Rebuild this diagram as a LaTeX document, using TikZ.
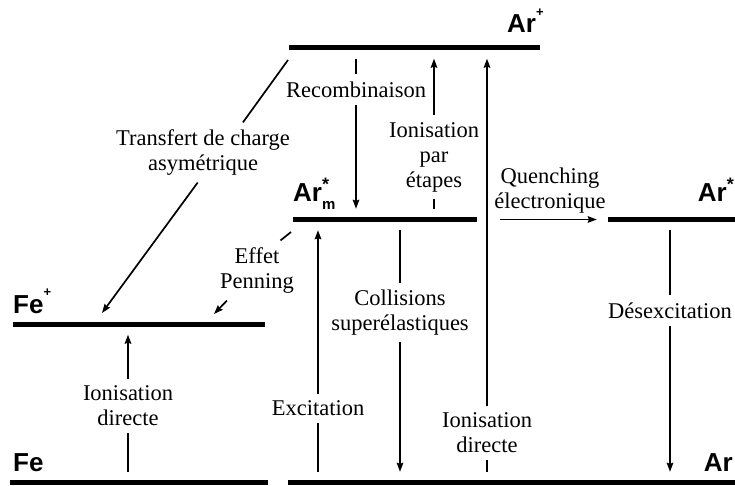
\documentclass[tikz,border=0pt]{standalone}
\usepackage{fontspec}
\setmainfont{Liberation Serif}
\setsansfont{Liberation Sans}
\usepackage{tikz}
\usetikzlibrary{positioning, arrows.meta}
\newcommand{\ionplus}{\raisebox{0.62em}{\fontsize{13}{13}\selectfont +}}
\newcommand{\excstar}{\raisebox{0.45em}{\fontsize{18}{18}\selectfont *}}
\newcommand{\metasub}{\raisebox{-0.27em}{\fontsize{15}{15}\selectfont m}}

\tikzset{
  level/.style={fill=black, inner sep=0pt, minimum height=5pt},
  species/.style={font=\sffamily\bfseries\fontsize{26}{28}\selectfont, inner sep=0pt},
  proc/.style={font=\fontsize{22.5}{25}\selectfont, align=center, inner xsep=3pt, inner ysep=7pt},
  tline/.style={line width=1.7pt, shorten <=8pt},
  tarrow/.style={line width=1.7pt, -{Stealth[length=9pt, width=6.5pt, inset=1pt]}, shorten >=8pt},
}

\begin{document}
\begin{tikzpicture}[x=1pt, y=-1pt]
  \useasboundingbox (0,0) rectangle (735,486);

  % energy levels
  \node[level, minimum width=251pt] (ArIon) at (414.5,48) {};
  \node[level, minimum width=184pt] (ArMeta) at (385,219.5) {};
  \node[level, minimum width=127pt] (ArRes) at (671.5,219.5) {};
  \node[level, minimum width=252pt] (FeIon) at (139,324) {};
  \node[level, minimum width=258pt] (Fe) at (139,482.5) {};
  \node[level, minimum width=447pt] (Ar) at (511.5,482.5) {};

  \node[species, anchor=base west] (ArIonLbl) at (507,33) {Ar\ionplus};
  \node[species, anchor=base west] (ArMetaLbl) at (293,202) {Ar\rlap{\excstar}\metasub};
  \node[species, anchor=base east] (ArResLbl) at (734,202) {Ar\excstar};
  \node[species, anchor=base west] (FeIonLbl) at (13,313) {Fe\ionplus};
  \node[species, anchor=base west] (FeLbl) at (13,471) {Fe};
  \node[species, anchor=base east] (ArLbl) at (733,471) {Ar};

  % processes
  \node[proc] (recomb) at (356,89.5) {Recombinaison};
  \node[proc] (etapes) at (434,157) {Ionisation\\par\\étapes};
  \node[proc] (transfert) at (203,152.5) {Transfert de charge\\asymétrique};
  \node[proc] (penning) at (257,270.5) {Effet\\Penning};
  \node[proc] (quench) at (550,190.5) {Quenching\\électronique};
  \node[proc] (colli) at (400,312.5) {Collisions\\superélastiques};
  \node[proc] (desex) at (670,310.5) {Désexcitation};
  \node[proc] (excit) at (318,408.5) {Excitation};
  \node[proc] (iondirAr) at (487,433) {Ionisation\\directe};
  \node[proc] (iondirFe) at (128,406) {Ionisation\\directe};

  \coordinate (trStart) at (288,60);
  \coordinate (trEnd) at (102,313);
  \coordinate (penStart) at (291,232);
  \coordinate (penEnd) at (214,314);

  \draw[tline] (recomb.north |- ArIon.south) -- (recomb.north);
  \draw[tarrow] (recomb.south) -- (recomb.south |- ArMeta.north);
  \draw[tline] (etapes.south |- ArMeta.north) -- (etapes.south);
  \draw[tarrow] (etapes.north) -- (etapes.north |- ArIon.south);
  \draw[tline] (colli.north |- ArMeta.south) -- (colli.north);
  \draw[tarrow] (colli.south) -- (colli.south |- Ar.north);
  \draw[tline] (desex.north |- ArRes.south) -- (desex.north);
  \draw[tarrow] (desex.south) -- (desex.south |- Ar.north);
  \draw[tline] (excit.south |- Ar.north) -- (excit.south);
  \draw[tarrow] (excit.north) -- (excit.north |- ArMeta.south);
  \draw[tline] (iondirAr.south |- Ar.north) -- (iondirAr.south);
  \draw[tarrow] (iondirAr.north) -- (iondirAr.north |- ArIon.south);
  \draw[tline] (iondirFe.south |- Fe.north) -- (iondirFe.south);
  \draw[tarrow] (iondirFe.north) -- (iondirFe.north |- FeIon.south);
  \draw[tarrow, shorten <=23pt, shorten >=11pt] (ArMeta.east) -- (ArRes.west);

  \draw[tline, shorten <=0pt] (trStart) -- (transfert.37);
  \draw[tarrow, shorten >=0pt] (transfert.260) -- (trEnd);
  \draw[tline, shorten <=0pt] (penStart) -- (penning.52);
  \draw[tarrow, shorten >=0pt] (penning.225) -- (penEnd);
\end{tikzpicture}
\end{document}
